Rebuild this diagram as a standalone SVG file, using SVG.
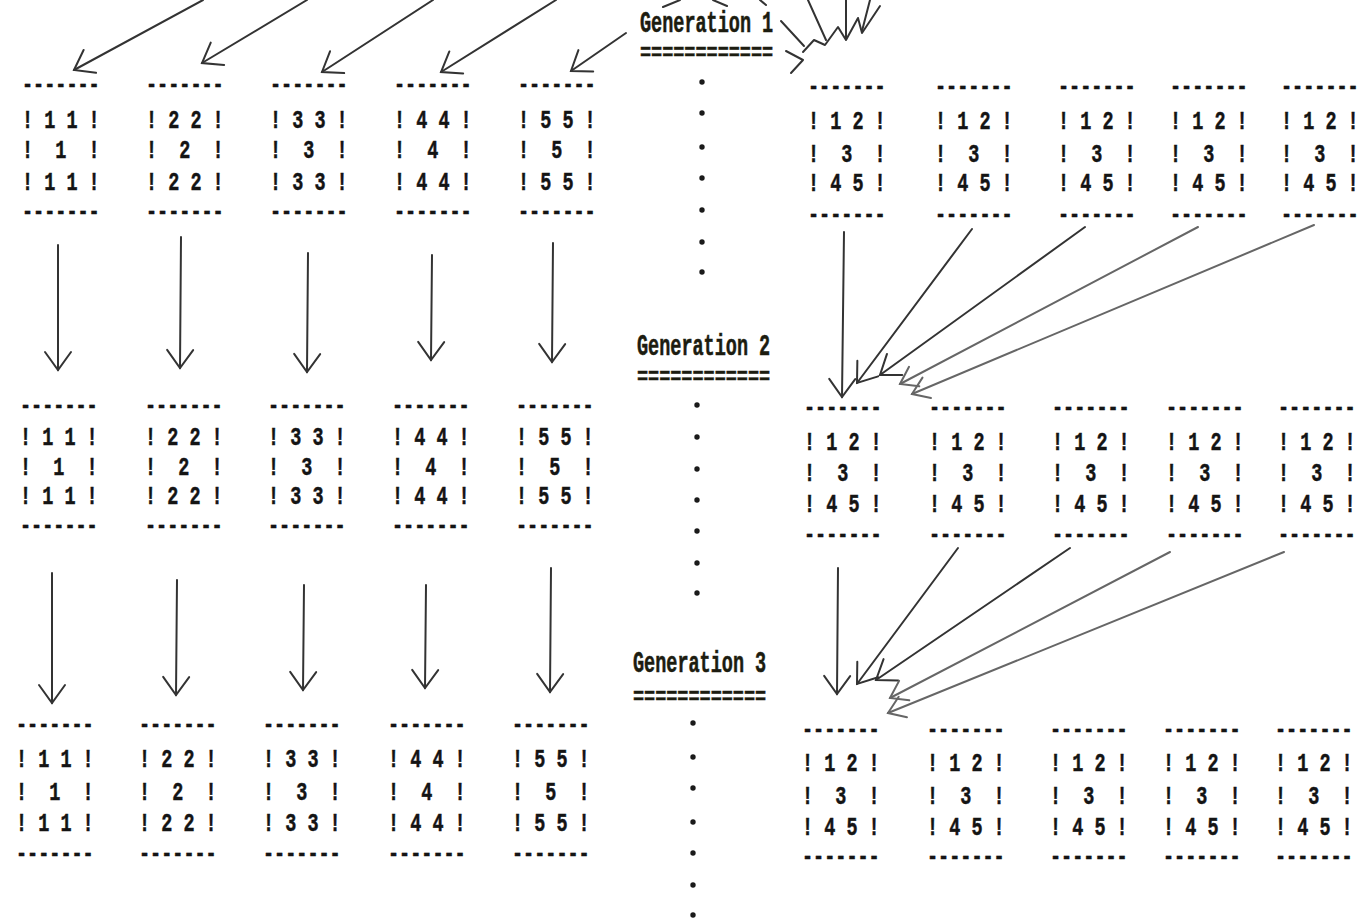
<svg xmlns="http://www.w3.org/2000/svg" width="1372" height="923" viewBox="0 0 1372 923" xml:space="preserve">
<style>
  .t{font-family:"Liberation Mono","DejaVu Sans Mono",monospace;font-weight:bold;font-size:18.5px;fill:#141414;stroke:#141414;stroke-width:0.35;white-space:pre}
  .g{font-family:"Liberation Mono","DejaVu Sans Mono",monospace;font-weight:bold;font-size:18.5px;fill:#1c1c10;stroke:#1c1c10;stroke-width:0.35;white-space:pre}
  .a{fill:none;stroke:#333;stroke-width:2;stroke-linecap:round;marker-end:url(#vh)}
  .ag{fill:none;stroke:#666;stroke-width:2;stroke-linecap:round;marker-end:url(#vhg)}
  .s{fill:none;stroke:#333;stroke-width:2;stroke-linecap:round;stroke-linejoin:round}
  .d{fill:#1a1a1a}
</style>
<defs>
  <marker id="vh" markerUnits="userSpaceOnUse" markerWidth="40" markerHeight="40" viewBox="-20 -20 40 40" refX="0" refY="0" orient="auto" overflow="visible">
    <path d="M-18,-13 L0,0 L-18,13" fill="none" stroke="#333" stroke-width="2" stroke-linecap="round"/>
  </marker>
  <marker id="vhg" markerUnits="userSpaceOnUse" markerWidth="40" markerHeight="40" viewBox="-20 -20 40 40" refX="0" refY="0" orient="auto" overflow="visible">
    <path d="M-16,-11 L0,0 L-16,11" fill="none" stroke="#666" stroke-width="2" stroke-linecap="round"/>
  </marker>
</defs>
<rect width="1372" height="923" fill="#ffffff"/>

<!-- generation headings -->
<g id="label-gen1">
  <text class="g" transform="translate(640,32) scale(1,1.6)">Generation 1</text>
  <text class="g" transform="translate(640,60) scale(1,1.3)">============</text>
</g>
<g id="label-gen2">
  <text class="g" transform="translate(637,355) scale(1,1.6)">Generation 2</text>
  <text class="g" transform="translate(637,384) scale(1,1.3)">============</text>
</g>
<g id="label-gen3">
  <text class="g" transform="translate(633,672) scale(1,1.6)">Generation 3</text>
  <text class="g" transform="translate(633,704) scale(1,1.3)">============</text>
</g>

<!-- vertical ellipsis columns -->
<g id="ellipsis">
  <circle class="d" cx="702" cy="82" r="2.7"/><circle class="d" cx="702" cy="113" r="2.7"/><circle class="d" cx="702" cy="147" r="2.7"/><circle class="d" cx="702" cy="178" r="2.7"/><circle class="d" cx="702" cy="210" r="2.7"/><circle class="d" cx="702" cy="242" r="2.7"/><circle class="d" cx="702" cy="272" r="2.7"/>
  <circle class="d" cx="697" cy="405" r="2.7"/><circle class="d" cx="697" cy="437" r="2.7"/><circle class="d" cx="697" cy="469" r="2.7"/><circle class="d" cx="697" cy="500" r="2.7"/><circle class="d" cx="697" cy="531" r="2.7"/><circle class="d" cx="697" cy="563" r="2.7"/><circle class="d" cx="697" cy="593" r="2.7"/>
  <circle class="d" cx="693" cy="723" r="2.7"/><circle class="d" cx="693" cy="757" r="2.7"/><circle class="d" cx="693" cy="788" r="2.7"/><circle class="d" cx="693" cy="822" r="2.7"/><circle class="d" cx="693" cy="853" r="2.7"/><circle class="d" cx="693" cy="885" r="2.7"/><circle class="d" cx="693" cy="915" r="2.7"/>
</g>

<!-- generation 1, uniform grids -->
<g id="g1-u1">
  <text class="t" transform="translate(22,92) scale(1,1.35)">-------</text>
  <text class="t" transform="translate(22,128) scale(1,1.35)">! 1 1 !</text>
  <text class="t" transform="translate(22,158) scale(1,1.35)">!  1  !</text>
  <text class="t" transform="translate(22,190) scale(1,1.35)">! 1 1 !</text>
  <text class="t" transform="translate(22,219) scale(1,1.35)">-------</text>
</g>
<g id="g1-u2">
  <text class="t" transform="translate(146,92) scale(1,1.35)">-------</text>
  <text class="t" transform="translate(146,128) scale(1,1.35)">! 2 2 !</text>
  <text class="t" transform="translate(146,158) scale(1,1.35)">!  2  !</text>
  <text class="t" transform="translate(146,190) scale(1,1.35)">! 2 2 !</text>
  <text class="t" transform="translate(146,219) scale(1,1.35)">-------</text>
</g>
<g id="g1-u3">
  <text class="t" transform="translate(270,92) scale(1,1.35)">-------</text>
  <text class="t" transform="translate(270,128) scale(1,1.35)">! 3 3 !</text>
  <text class="t" transform="translate(270,158) scale(1,1.35)">!  3  !</text>
  <text class="t" transform="translate(270,190) scale(1,1.35)">! 3 3 !</text>
  <text class="t" transform="translate(270,219) scale(1,1.35)">-------</text>
</g>
<g id="g1-u4">
  <text class="t" transform="translate(394,92) scale(1,1.35)">-------</text>
  <text class="t" transform="translate(394,128) scale(1,1.35)">! 4 4 !</text>
  <text class="t" transform="translate(394,158) scale(1,1.35)">!  4  !</text>
  <text class="t" transform="translate(394,190) scale(1,1.35)">! 4 4 !</text>
  <text class="t" transform="translate(394,219) scale(1,1.35)">-------</text>
</g>
<g id="g1-u5">
  <text class="t" transform="translate(518,92) scale(1,1.35)">-------</text>
  <text class="t" transform="translate(518,128) scale(1,1.35)">! 5 5 !</text>
  <text class="t" transform="translate(518,158) scale(1,1.35)">!  5  !</text>
  <text class="t" transform="translate(518,190) scale(1,1.35)">! 5 5 !</text>
  <text class="t" transform="translate(518,219) scale(1,1.35)">-------</text>
</g>

<!-- generation 2, uniform grids -->
<g id="g2-u1">
  <text class="t" transform="translate(20,413) scale(1,1.35)">-------</text>
  <text class="t" transform="translate(20,445) scale(1,1.35)">! 1 1 !</text>
  <text class="t" transform="translate(20,475) scale(1,1.35)">!  1  !</text>
  <text class="t" transform="translate(20,504) scale(1,1.35)">! 1 1 !</text>
  <text class="t" transform="translate(20,533) scale(1,1.35)">-------</text>
</g>
<g id="g2-u2">
  <text class="t" transform="translate(145,413) scale(1,1.35)">-------</text>
  <text class="t" transform="translate(145,445) scale(1,1.35)">! 2 2 !</text>
  <text class="t" transform="translate(145,475) scale(1,1.35)">!  2  !</text>
  <text class="t" transform="translate(145,504) scale(1,1.35)">! 2 2 !</text>
  <text class="t" transform="translate(145,533) scale(1,1.35)">-------</text>
</g>
<g id="g2-u3">
  <text class="t" transform="translate(268,413) scale(1,1.35)">-------</text>
  <text class="t" transform="translate(268,445) scale(1,1.35)">! 3 3 !</text>
  <text class="t" transform="translate(268,475) scale(1,1.35)">!  3  !</text>
  <text class="t" transform="translate(268,504) scale(1,1.35)">! 3 3 !</text>
  <text class="t" transform="translate(268,533) scale(1,1.35)">-------</text>
</g>
<g id="g2-u4">
  <text class="t" transform="translate(392,413) scale(1,1.35)">-------</text>
  <text class="t" transform="translate(392,445) scale(1,1.35)">! 4 4 !</text>
  <text class="t" transform="translate(392,475) scale(1,1.35)">!  4  !</text>
  <text class="t" transform="translate(392,504) scale(1,1.35)">! 4 4 !</text>
  <text class="t" transform="translate(392,533) scale(1,1.35)">-------</text>
</g>
<g id="g2-u5">
  <text class="t" transform="translate(516,413) scale(1,1.35)">-------</text>
  <text class="t" transform="translate(516,445) scale(1,1.35)">! 5 5 !</text>
  <text class="t" transform="translate(516,475) scale(1,1.35)">!  5  !</text>
  <text class="t" transform="translate(516,504) scale(1,1.35)">! 5 5 !</text>
  <text class="t" transform="translate(516,533) scale(1,1.35)">-------</text>
</g>

<!-- generation 3, uniform grids -->
<g id="g3-u1">
  <text class="t" transform="translate(16,732) scale(1,1.35)">-------</text>
  <text class="t" transform="translate(16,767) scale(1,1.35)">! 1 1 !</text>
  <text class="t" transform="translate(16,800) scale(1,1.35)">!  1  !</text>
  <text class="t" transform="translate(16,831) scale(1,1.35)">! 1 1 !</text>
  <text class="t" transform="translate(16,861) scale(1,1.35)">-------</text>
</g>
<g id="g3-u2">
  <text class="t" transform="translate(139,732) scale(1,1.35)">-------</text>
  <text class="t" transform="translate(139,767) scale(1,1.35)">! 2 2 !</text>
  <text class="t" transform="translate(139,800) scale(1,1.35)">!  2  !</text>
  <text class="t" transform="translate(139,831) scale(1,1.35)">! 2 2 !</text>
  <text class="t" transform="translate(139,861) scale(1,1.35)">-------</text>
</g>
<g id="g3-u3">
  <text class="t" transform="translate(263,732) scale(1,1.35)">-------</text>
  <text class="t" transform="translate(263,767) scale(1,1.35)">! 3 3 !</text>
  <text class="t" transform="translate(263,800) scale(1,1.35)">!  3  !</text>
  <text class="t" transform="translate(263,831) scale(1,1.35)">! 3 3 !</text>
  <text class="t" transform="translate(263,861) scale(1,1.35)">-------</text>
</g>
<g id="g3-u4">
  <text class="t" transform="translate(388,732) scale(1,1.35)">-------</text>
  <text class="t" transform="translate(388,767) scale(1,1.35)">! 4 4 !</text>
  <text class="t" transform="translate(388,800) scale(1,1.35)">!  4  !</text>
  <text class="t" transform="translate(388,831) scale(1,1.35)">! 4 4 !</text>
  <text class="t" transform="translate(388,861) scale(1,1.35)">-------</text>
</g>
<g id="g3-u5">
  <text class="t" transform="translate(512,732) scale(1,1.35)">-------</text>
  <text class="t" transform="translate(512,767) scale(1,1.35)">! 5 5 !</text>
  <text class="t" transform="translate(512,800) scale(1,1.35)">!  5  !</text>
  <text class="t" transform="translate(512,831) scale(1,1.35)">! 5 5 !</text>
  <text class="t" transform="translate(512,861) scale(1,1.35)">-------</text>
</g>

<!-- generation 1, mixed grids -->
<g id="g1-m1">
  <text class="t" transform="translate(808,94) scale(1,1.35)">-------</text>
  <text class="t" transform="translate(808,129) scale(1,1.35)">! 1 2 !</text>
  <text class="t" transform="translate(808,162) scale(1,1.35)">!  3  !</text>
  <text class="t" transform="translate(808,191) scale(1,1.35)">! 4 5 !</text>
  <text class="t" transform="translate(808,222) scale(1,1.35)">-------</text>
</g>
<g id="g1-m2">
  <text class="t" transform="translate(935,94) scale(1,1.35)">-------</text>
  <text class="t" transform="translate(935,129) scale(1,1.35)">! 1 2 !</text>
  <text class="t" transform="translate(935,162) scale(1,1.35)">!  3  !</text>
  <text class="t" transform="translate(935,191) scale(1,1.35)">! 4 5 !</text>
  <text class="t" transform="translate(935,222) scale(1,1.35)">-------</text>
</g>
<g id="g1-m3">
  <text class="t" transform="translate(1058,94) scale(1,1.35)">-------</text>
  <text class="t" transform="translate(1058,129) scale(1,1.35)">! 1 2 !</text>
  <text class="t" transform="translate(1058,162) scale(1,1.35)">!  3  !</text>
  <text class="t" transform="translate(1058,191) scale(1,1.35)">! 4 5 !</text>
  <text class="t" transform="translate(1058,222) scale(1,1.35)">-------</text>
</g>
<g id="g1-m4">
  <text class="t" transform="translate(1170,94) scale(1,1.35)">-------</text>
  <text class="t" transform="translate(1170,129) scale(1,1.35)">! 1 2 !</text>
  <text class="t" transform="translate(1170,162) scale(1,1.35)">!  3  !</text>
  <text class="t" transform="translate(1170,191) scale(1,1.35)">! 4 5 !</text>
  <text class="t" transform="translate(1170,222) scale(1,1.35)">-------</text>
</g>
<g id="g1-m5">
  <text class="t" transform="translate(1281,94) scale(1,1.35)">-------</text>
  <text class="t" transform="translate(1281,129) scale(1,1.35)">! 1 2 !</text>
  <text class="t" transform="translate(1281,162) scale(1,1.35)">!  3  !</text>
  <text class="t" transform="translate(1281,191) scale(1,1.35)">! 4 5 !</text>
  <text class="t" transform="translate(1281,222) scale(1,1.35)">-------</text>
</g>

<!-- generation 2, mixed grids -->
<g id="g2-m1">
  <text class="t" transform="translate(804,415) scale(1,1.35)">-------</text>
  <text class="t" transform="translate(804,450) scale(1,1.35)">! 1 2 !</text>
  <text class="t" transform="translate(804,481) scale(1,1.35)">!  3  !</text>
  <text class="t" transform="translate(804,512) scale(1,1.35)">! 4 5 !</text>
  <text class="t" transform="translate(804,542) scale(1,1.35)">-------</text>
</g>
<g id="g2-m2">
  <text class="t" transform="translate(929,415) scale(1,1.35)">-------</text>
  <text class="t" transform="translate(929,450) scale(1,1.35)">! 1 2 !</text>
  <text class="t" transform="translate(929,481) scale(1,1.35)">!  3  !</text>
  <text class="t" transform="translate(929,512) scale(1,1.35)">! 4 5 !</text>
  <text class="t" transform="translate(929,542) scale(1,1.35)">-------</text>
</g>
<g id="g2-m3">
  <text class="t" transform="translate(1052,415) scale(1,1.35)">-------</text>
  <text class="t" transform="translate(1052,450) scale(1,1.35)">! 1 2 !</text>
  <text class="t" transform="translate(1052,481) scale(1,1.35)">!  3  !</text>
  <text class="t" transform="translate(1052,512) scale(1,1.35)">! 4 5 !</text>
  <text class="t" transform="translate(1052,542) scale(1,1.35)">-------</text>
</g>
<g id="g2-m4">
  <text class="t" transform="translate(1166,415) scale(1,1.35)">-------</text>
  <text class="t" transform="translate(1166,450) scale(1,1.35)">! 1 2 !</text>
  <text class="t" transform="translate(1166,481) scale(1,1.35)">!  3  !</text>
  <text class="t" transform="translate(1166,512) scale(1,1.35)">! 4 5 !</text>
  <text class="t" transform="translate(1166,542) scale(1,1.35)">-------</text>
</g>
<g id="g2-m5">
  <text class="t" transform="translate(1278,415) scale(1,1.35)">-------</text>
  <text class="t" transform="translate(1278,450) scale(1,1.35)">! 1 2 !</text>
  <text class="t" transform="translate(1278,481) scale(1,1.35)">!  3  !</text>
  <text class="t" transform="translate(1278,512) scale(1,1.35)">! 4 5 !</text>
  <text class="t" transform="translate(1278,542) scale(1,1.35)">-------</text>
</g>

<!-- generation 3, mixed grids -->
<g id="g3-m1">
  <text class="t" transform="translate(802,737) scale(1,1.35)">-------</text>
  <text class="t" transform="translate(802,771) scale(1,1.35)">! 1 2 !</text>
  <text class="t" transform="translate(802,804) scale(1,1.35)">!  3  !</text>
  <text class="t" transform="translate(802,835) scale(1,1.35)">! 4 5 !</text>
  <text class="t" transform="translate(802,864) scale(1,1.35)">-------</text>
</g>
<g id="g3-m2">
  <text class="t" transform="translate(927,737) scale(1,1.35)">-------</text>
  <text class="t" transform="translate(927,771) scale(1,1.35)">! 1 2 !</text>
  <text class="t" transform="translate(927,804) scale(1,1.35)">!  3  !</text>
  <text class="t" transform="translate(927,835) scale(1,1.35)">! 4 5 !</text>
  <text class="t" transform="translate(927,864) scale(1,1.35)">-------</text>
</g>
<g id="g3-m3">
  <text class="t" transform="translate(1050,737) scale(1,1.35)">-------</text>
  <text class="t" transform="translate(1050,771) scale(1,1.35)">! 1 2 !</text>
  <text class="t" transform="translate(1050,804) scale(1,1.35)">!  3  !</text>
  <text class="t" transform="translate(1050,835) scale(1,1.35)">! 4 5 !</text>
  <text class="t" transform="translate(1050,864) scale(1,1.35)">-------</text>
</g>
<g id="g3-m4">
  <text class="t" transform="translate(1163,737) scale(1,1.35)">-------</text>
  <text class="t" transform="translate(1163,771) scale(1,1.35)">! 1 2 !</text>
  <text class="t" transform="translate(1163,804) scale(1,1.35)">!  3  !</text>
  <text class="t" transform="translate(1163,835) scale(1,1.35)">! 4 5 !</text>
  <text class="t" transform="translate(1163,864) scale(1,1.35)">-------</text>
</g>
<g id="g3-m5">
  <text class="t" transform="translate(1275,737) scale(1,1.35)">-------</text>
  <text class="t" transform="translate(1275,771) scale(1,1.35)">! 1 2 !</text>
  <text class="t" transform="translate(1275,804) scale(1,1.35)">!  3  !</text>
  <text class="t" transform="translate(1275,835) scale(1,1.35)">! 4 5 !</text>
  <text class="t" transform="translate(1275,864) scale(1,1.35)">-------</text>
</g>

<!-- connectors -->
<g id="connectors">
  <!-- incoming strokes at the top, left half -->
  <path class="a" d="M203,0 L74,70"/>
  <path class="a" d="M307,0 L202,63"/>
  <path class="a" d="M433,0 L322,72"/>
  <path class="a" d="M556,0 L441,72"/>
  <path class="a" d="M626,33 L571,71"/>
  <!-- stroke ends above the heading -->
  <path class="s" d="M663,7 L680,0"/>
  <path class="s" d="M713,0 L727,6"/>
  <path class="s" d="M760,0 L766,5"/>
  <!-- fan of arrowheads at the top, right half -->
  <path class="s" d="M781,21 L804,46"/>
  <path class="s" d="M786,51 L803,60 L791,73"/>
  <path class="s" d="M808,0 L826,40"/>
  <path class="s" d="M803,52 L814,40 L825,45 L838,27 L846,40 L858,18 L862,33 L880,6"/>
  <path class="s" d="M846,0 L846,38"/>
  <path class="s" d="M870,0 L862,31"/>

  <!-- generation 1 to 2, left half -->
  <path class="a" d="M58,245 L58,370"/>
  <path class="a" d="M181,237 L180,368"/>
  <path class="a" d="M308,253 L307,372"/>
  <path class="a" d="M432,255 L431,360"/>
  <path class="a" d="M553,243 L552,362"/>
  <!-- generation 2 to 3, left half -->
  <path class="a" d="M52,573 L52,703"/>
  <path class="a" d="M177,580 L176,695"/>
  <path class="a" d="M304,585 L303,690"/>
  <path class="a" d="M426,585 L425,688"/>
  <path class="a" d="M551,568 L550,692"/>

  <!-- generation 1 to 2, right half: all grids feed the first -->
  <path class="a" d="M844,232 L842,397"/>
  <path class="a" d="M972,229 L857,383"/>
  <path class="a" d="M1085,227 L880,375"/>
  <path class="ag" d="M1198,227 L900,384"/>
  <path class="ag" d="M1314,225 L912,394"/>
  <!-- generation 2 to 3, right half -->
  <path class="a" d="M838,568 L837,694"/>
  <path class="a" d="M958,548 L857,684"/>
  <path class="a" d="M1070,548 L876,680"/>
  <path class="ag" d="M1170,552 L890,698"/>
  <path class="ag" d="M1284,552 L888,713"/>
</g>
</svg>
